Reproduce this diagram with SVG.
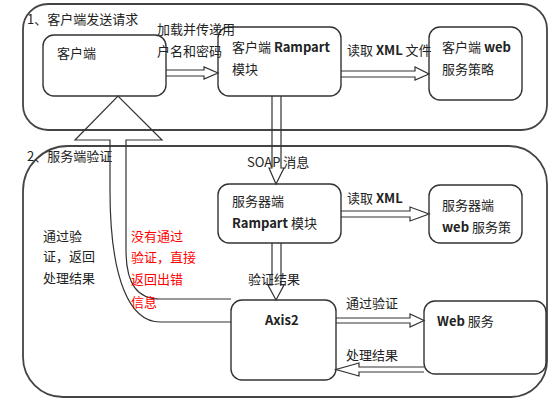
<svg xmlns="http://www.w3.org/2000/svg" width="554" height="411" viewBox="0 0 554 411">
<style>
text{font-family:"Noto Sans CJK SC","Noto Sans",sans-serif;font-size:13px;fill:#222}
.b{font-weight:bold}
.red{fill:#f00}
.cont{fill:none;stroke:#444;stroke-width:1.8}
.box{fill:#fff;stroke:#333;stroke-width:1.4}
.arr{fill:none;stroke:#333;stroke-width:1.2;stroke-linejoin:miter}
</style>
<rect width="554" height="411" fill="#fff"/>
<g id="client-container">
<rect class="cont" x="23" y="4" width="524" height="126" rx="25"/>
<text x="27" y="24">1、客户端发送请求</text>
</g>
<g id="server-container">
<path class="cont" d="M68,146 H509 A38,38 0 0 1 547,184 V361 A36,36 0 0 1 511,397 H63 A40,40 0 0 1 23,357 V191 A45,45 0 0 1 68,146 Z"/>
<text x="27" y="161">2、服务端验证</text>
</g>
<g id="client">
<rect class="box" x="43" y="35" width="123" height="61" rx="11"/>
<text x="57" y="58">客户端</text>
</g>
<g id="client-rampart">
<rect class="box" x="218" y="27" width="123" height="69" rx="11"/>
<text x="232" y="52">客户端 <tspan class="b">Rampart</tspan></text>
<text x="232" y="74">模块</text>
</g>
<g id="client-policy">
<rect class="box" x="429" y="27" width="93" height="73" rx="11"/>
<text x="442" y="52">客户端 <tspan class="b">web</tspan></text>
<text x="442" y="74">服务策略</text>
</g>
<g id="server-rampart">
<rect class="box" x="218" y="184" width="123" height="59" rx="11"/>
<text x="232" y="206">服务器端</text>
<text x="232" y="228"><tspan class="b">Rampart</tspan> 模块</text>
</g>
<g id="server-policy">
<rect class="box" x="429" y="185" width="93" height="58" rx="11"/>
<text x="442" y="210">服务器端</text>
<text x="442" y="232"><tspan class="b">web</tspan> 服务策</text>
</g>
<g id="axis2">
<rect class="box" x="231" y="300" width="105" height="80" rx="11"/>
<text x="265" y="325" class="b">Axis2</text>
</g>
<g id="web-service">
<rect class="box" x="424" y="301" width="122" height="73" rx="11"/>
<text x="437" y="326"><tspan class="b">Web</tspan> 服务</text>
</g>
<g id="connectors">
<path class="arr" d="M166,70 H204 V67 L218,73 L204,79 V76 H166"/>
<path class="arr" d="M341,71 H415 V67 L429,74 L415,80 V77 H341"/>
<path class="arr" d="M272,96 V168 H269 L276,184 L284,168 H281 V96"/>
<path class="arr" d="M272,243 V285 H268 L276,300 L284,285 H281 V243"/>
<path class="arr" d="M341,211 H410 V207 L429,214 L410,221 V217 H341"/>
<path class="arr" d="M336,318 H410 V314 L424,320.5 L410,327 V323 H336"/>
<path class="arr" d="M424,367 H359 V363 L336,369.5 L359,376 V372 H424"/>
<path class="arr" d="M231,299 H160 C138,299 126,285 126,250 V140 H162 L118,96 L75,140 H110 V190 C110,280 130,322 160,322 H231"/>
<text x="157" y="34">加载并传递用</text>
<text x="157" y="56">户名和密码</text>
<text x="347" y="55">读取 <tspan class="b">XML</tspan> 文件</text>
<text x="247" y="167">SOAP 消息</text>
<text x="347" y="203">读取 <tspan class="b">XML</tspan></text>
<text x="248" y="284">验证结果</text>
<text x="346" y="308">通过验证</text>
<text x="346" y="360">处理结果</text>
<text x="43" y="241">通过验</text>
<text x="43" y="261">证，返回</text>
<text x="43" y="283">处理结果</text>
<text x="131" y="241" class="red">没有通过</text>
<text x="131" y="262" class="red">验证，直接</text>
<text x="131" y="284" class="red">返回出错</text>
<text x="131" y="307" class="red">信息</text>
</g>
</svg>
